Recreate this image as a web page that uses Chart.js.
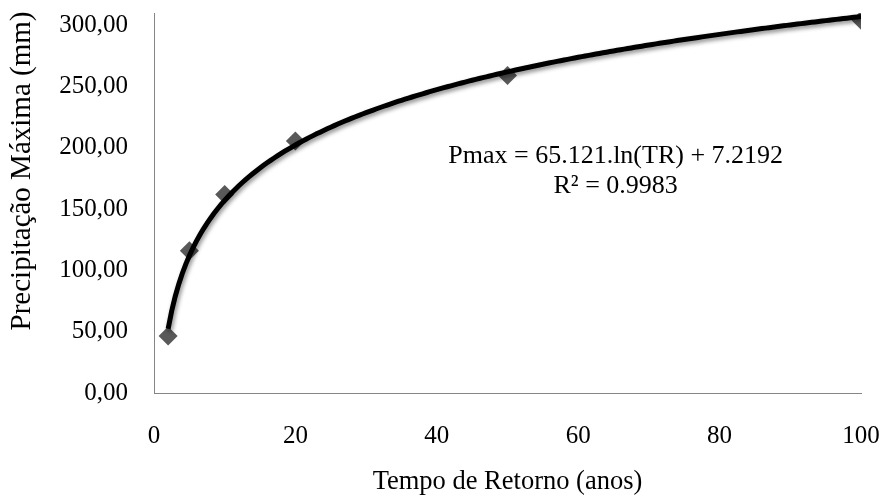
<!DOCTYPE html>
<html>
<head>
<meta charset="utf-8">
<script src="https://cdn.jsdelivr.net/npm/chart.js@4.4.1/dist/chart.umd.min.js"></script>
<style>
  html, body { margin: 0; padding: 0; background: #fff; }
  canvas { display: block; }
</style>
</head>
<body>
<canvas id="chart" width="881" height="498"></canvas>
<script>
// tempo de retorno (anos) e precipitação máxima (mm)
var returnPeriods = [2, 5, 10, 20, 50, 100];
var maxRain = [46.5, 116, 162, 205.5, 259, 304];

// trendline as printed on the chart: Pmax = a.ln(TR) + b
var trendA = 65.121;
var trendB = 7.2192;
var trendLabel = ['Pmax = 65.121.ln(TR) + 7.2192', 'R² = 0.9983'];

var xTicks = [0, 20, 40, 60, 80, 100];
var yTicks = [0, 50, 100, 150, 200, 250, 300];
var xTitle = 'Tempo de Retorno (anos)';
var yTitle = 'Precipitação Máxima (mm)';

var points = returnPeriods.map(function (tr, i) {
    return { x: tr, y: maxRain[i] };
});

var trendPoints = [];
for (var tr = returnPeriods[0]; tr <= returnPeriods[returnPeriods.length - 1]; tr += 0.5) {
    trendPoints.push({ x: tr, y: trendA * Math.log(tr) + trendB });
}

var serif = 'Liberation Serif, Times New Roman, serif';

// shadow under the trendline
var shadowPlugin = {
    id: 'trendShadow',
    beforeDatasetDraw: function (chart, args) {
        if (args.index !== 0) return;
        var c = chart.ctx;
        c.save();
        c.shadowColor = 'rgba(0, 0, 0, 0.45)';
        c.shadowBlur = 4;
        c.shadowOffsetX = 1.5;
        c.shadowOffsetY = 2.5;
    },
    afterDatasetDraw: function (chart, args) {
        if (args.index !== 0) return;
        chart.ctx.restore();
    }
};

// equation text + y title (excel puts it a bit above centre)
var textPlugin = {
    id: 'texts',
    afterDraw: function (chart) {
        var c = chart.ctx;
        var cx = chart.scales.x.getPixelForValue(65.3);
        var y1 = chart.scales.y.getPixelForValue(188);
        c.save();
        c.fillStyle = '#000';
        c.font = '26px ' + serif;
        c.textAlign = 'center';
        c.textBaseline = 'alphabetic';
        c.fillText(trendLabel[0], cx, y1);
        c.fillText(trendLabel[1], cx, y1 + 30);

        c.translate(22, 171);
        c.rotate(-Math.PI / 2);
        c.font = '29px ' + serif;
        c.textBaseline = 'middle';
        c.fillText(yTitle, 0, 0);
        c.restore();
    }
};

var ctx = document.getElementById('chart').getContext('2d');
var myChart = new Chart(ctx, {
    type: 'scatter',
    data: {
        datasets: [{
            type: 'line',
            label: 'Logarítmica',
            data: trendPoints,
            borderColor: '#000',
            borderWidth: 5,
            pointRadius: 0,
            tension: 0,
            fill: false
        }, {
            label: 'Pmax',
            data: points,
            pointStyle: 'rectRot',
            pointRadius: 9.5,
            pointBackgroundColor: '#595959',
            pointBorderColor: '#595959',
            pointBorderWidth: 0
        }]
    },
    options: {
        responsive: false,
        animation: false,
        layout: { autoPadding: false, padding: { top: 13, right: 20, left: 0, bottom: 0 } },
        plugins: {
            legend: { display: false },
            tooltip: { enabled: false }
        },
        scales: {
            x: {
                type: 'linear',
                min: 0,
                max: 100,
                grid: { display: false, drawTicks: false },
                border: { display: true, color: '#868686', width: 1 },
                afterBuildTicks: function (scale) {
                    scale.ticks = xTicks.map(function (v) { return { value: v }; });
                },
                afterFit: function (scale) {
                    scale.height = 105;
                    scale.paddingLeft = 0;
                    scale.paddingRight = 0;
                },
                ticks: {
                    color: '#000',
                    padding: 28,
                    maxRotation: 0,
                    font: { family: serif, size: 25 }
                },
                title: {
                    display: true,
                    text: xTitle,
                    color: '#000',
                    font: { family: serif, size: 26.5 },
                    padding: { top: 0, bottom: 0 }
                }
            },
            y: {
                min: 0,
                max: 310,
                grid: { display: false, drawTicks: false },
                border: { display: true, color: '#868686', width: 1 },
                afterBuildTicks: function (scale) {
                    scale.ticks = yTicks.map(function (v) { return { value: v }; });
                },
                afterFit: function (scale) {
                    scale.width = 154;
                    scale.paddingTop = 0;
                    scale.paddingBottom = 0;
                },
                ticks: {
                    color: '#000',
                    padding: 26,
                    font: { family: serif, size: 25 },
                    callback: function (v) { return v.toFixed(2).replace('.', ','); }
                },
                title: { display: false }
            }
        }
    },
    plugins: [shadowPlugin, textPlugin]
});
</script>
</body>
</html>
